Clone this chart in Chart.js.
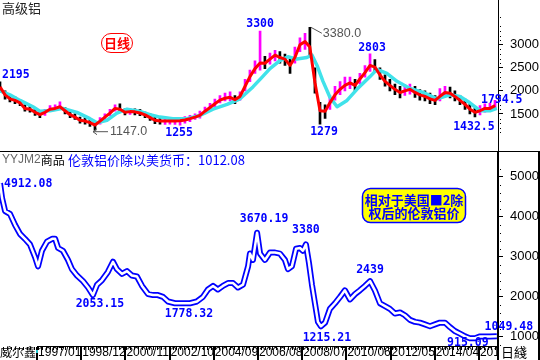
<!DOCTYPE html>
<html>
<head>
<meta charset="utf-8">
<script src="https://cdn.jsdelivr.net/npm/chart.js@4.4.1/dist/chart.umd.min.js"></script>
<style>
html, body { margin: 0; padding: 0; background: #fff; }
#wrap { position: relative; width: 540px; height: 360px; overflow: hidden; }
#top { position: absolute; left: 0; top: 0; }
#bot { position: absolute; left: 0; top: 151px; }
</style>
</head>
<body>
<div id="wrap">
  <canvas id="top" width="540" height="151"></canvas>
  <canvas id="bot" width="540" height="209"></canvas>
</div>
<script>
// time axis (decimal years)
var X_MIN = 1995.35, X_MAX = 2016.95;
var dateLabels = ['1997/01', '1998/12', '2000/11', '2002/10', '2004/09', '2006/08', '2008/07', '2010/06', '2012/05', '2014/04', '2016/03'];
var topTicks = [1500, 2000, 2500, 3000];
var botTicks = [1000, 2000, 3000, 4000, 5000];

// 高级铝 (top panel)
var topT = [1995.35,1995.57,1995.78,1996.00,1996.22,1996.43,1996.65,1996.87,1997.08,1997.30,
  1997.52,1997.74,1997.95,1998.17,1998.39,1998.60,1998.82,1999.04,1999.25,1999.47,
  1999.69,1999.90,2000.12,2000.34,2000.55,2000.77,2000.99,2001.20,2001.42,2001.64,
  2001.86,2002.07,2002.29,2002.51,2002.72,2002.94,2003.16,2003.37,2003.59,2003.81,
  2004.02,2004.24,2004.46,2004.67,2004.89,2005.11,2005.33,2005.54,2005.76,2005.98,
  2006.19,2006.41,2006.63,2006.84,2007.06,2007.28,2007.49,2007.71,2007.93,2008.14,
  2008.36,2008.58,2008.79,2009.01,2009.23,2009.45,2009.66,2009.88,2010.10,2010.31,
  2010.53,2010.75,2010.96,2011.18,2011.40,2011.61,2011.83,2012.05,2012.26,2012.48,
  2012.70,2012.91,2013.13,2013.35,2013.56,2013.78,2014.00,2014.22,2014.43,2014.65,
  2014.87,2015.08,2015.30,2015.52,2015.73,2015.95,2016.17,2016.38,2016.60,2016.82];
var topClose = [2086,1914,1828,1793,1740,1620,1603,1535,1483,1535,
  1603,1620,1655,1569,1483,1431,1362,1345,1310,1259,
  1345,1431,1517,1620,1600,1535,1550,1545,1520,1480,
  1420,1362,1345,1345,1345,1345,1350,1370,1397,1431,
  1470,1560,1640,1720,1800,1840,1860,1810,1880,2100,
  2310,2483,2603,2600,2690,2776,2724,2690,2552,2724,
  3000,3069,2950,2180,1569,1560,1740,1914,2034,2121,
  2172,2121,2259,2397,2552,2517,2345,2207,2121,2034,
  1966,2000,2034,1966,1914,1880,1828,1793,1880,1966,
  1948,1880,1793,1707,1603,1535,1569,1620,1620,1680];
var topHigh = [2195,2000,1900,1870,1800,1700,1680,1600,1560,1600,
  1680,1700,1760,1640,1560,1500,1430,1420,1380,1330,
  1420,1500,1600,1700,1720,1610,1620,1610,1600,1540,
  1500,1430,1420,1410,1400,1420,1400,1440,1470,1500,
  1560,1650,1730,1820,1900,1950,1980,1900,1980,2250,
  2450,2650,3300,2750,2820,2880,2850,2800,2700,2950,
  3150,3250,3380,2500,1750,1700,1900,2100,2200,2300,
  2300,2250,2380,2550,2803,2680,2500,2350,2250,2150,
  2100,2130,2150,2100,2030,2000,1950,1900,2050,2100,
  2080,2000,1900,1820,1720,1620,1680,1720,1730,1794.5];
var topLow = [1980,1820,1760,1720,1680,1560,1540,1470,1420,1470,
  1550,1570,1600,1500,1420,1380,1300,1280,1230,1147,
  1280,1380,1460,1560,1540,1480,1490,1480,1460,1420,
  1360,1290,1280,1270,1280,1270,1255,1300,1330,1380,
  1410,1500,1580,1660,1740,1780,1780,1720,1800,2000,
  2200,2380,2450,2480,2580,2650,2600,2550,2380,2600,
  2850,2900,2750,1950,1279,1400,1600,1800,1920,2000,
  2050,2000,2150,2300,2420,2400,2250,2100,2000,1920,
  1850,1900,1930,1860,1800,1780,1720,1700,1780,1880,
  1850,1780,1700,1600,1500,1432.5,1480,1540,1560,1620];
// long moving average (cyan)
var maT = [1995.35,1995.78,1996.22,1996.78,1997.08,1997.52,1998.08,1998.69,1999.25,1999.56,
  1999.99,2000.42,2000.86,2001.42,2001.86,2002.29,2002.85,2003.46,2004.02,2004.59,
  2005.20,2005.76,2006.32,2006.71,2007.06,2007.49,2007.84,2008.23,2008.66,2008.88,
  2009.10,2009.36,2009.66,2009.97,2010.40,2010.83,2011.40,2011.70,2012.13,2012.57,
  2013.13,2013.70,2014.30,2014.87,2015.30,2015.73,2016.17,2016.60,2016.90];
var maV = [2000,1914,1793,1655,1560,1569,1620,1535,1397,1310,
  1362,1517,1603,1552,1483,1431,1397,1397,1466,1603,
  1707,1828,2086,2293,2483,2655,2741,2690,2724,2776,
  2552,2207,1862,1655,1793,2034,2310,2466,2379,2207,
  2052,1966,1828,1914,1880,1741,1569,1569,1620];

// 伦敦铝价除以美货币 (bottom panel)
var botT = [1995.35,1995.44,1995.57,1995.78,1996.00,1996.22,1996.43,1996.65,1996.87,1997.00,
  1997.17,1997.39,1997.61,1997.74,1997.87,1998.08,1998.30,1998.47,1998.69,1998.95,
  1999.17,1999.38,1999.56,1999.77,2000.03,2000.25,2000.42,2000.64,2000.86,2001.07,
  2001.29,2001.51,2001.77,2001.99,2002.20,2002.42,2002.64,2002.94,2003.24,2003.59,
  2003.89,2004.15,2004.37,2004.59,2004.80,2005.02,2005.24,2005.46,2005.67,2005.89,
  2006.11,2006.19,2006.32,2006.50,2006.63,2006.84,2007.06,2007.28,2007.49,2007.71,
  2007.84,2008.01,2008.19,2008.36,2008.49,2008.62,2008.75,2008.88,2009.01,2009.14,
  2009.27,2009.45,2009.66,2009.88,2010.10,2010.31,2010.53,2010.75,2010.96,2011.18,
  2011.40,2011.61,2011.83,2012.05,2012.26,2012.48,2012.70,2012.91,2013.13,2013.35,
  2013.56,2013.78,2014.00,2014.22,2014.43,2014.65,2014.87,2015.08,2015.30,2015.52,
  2015.73,2015.95,2016.17,2016.38,2016.60,2016.90];
var botV = [4840,4470,4145,4075,3800,3570,3450,3310,2990,2760,
  3150,3380,3450,3450,3220,3150,2920,2690,2530,2390,
  2230,2040,2300,2410,2620,2875,2690,2570,2640,2530,
  2505,2270,2065,2040,2040,1995,1880,1835,1835,1835,
  1880,1995,2180,2270,2180,2270,2340,2340,2230,2300,
  2760,3080,2920,3600,3080,2920,3105,3105,3080,2920,
  2690,2760,3200,3220,3150,3310,2850,2300,1835,1370,
  1260,1350,1695,1835,1995,2160,1930,2065,2160,2270,
  2390,2160,1835,1765,1695,1580,1605,1535,1420,1370,
  1350,1305,1260,1305,1350,1350,1235,1140,1075,1005,
  960,960,1005,1005,1005,1012];

// value notes
var topNotes = [
  {t: 1995.35, v: 2195, s: '2195', dx: 2, dy: -7, align: 'left'},
  {t: 2006.63, v: 3300, s: '3300', dx: 0, dy: -7},
  {t: 2011.40, v: 2803, s: '2803', dx: 2, dy: -6},
  {t: 2009.23, v: 1279, s: '1279', dx: 4, dy: 8},
  {t: 2003.16, v: 1255, s: '1255', dx: -1, dy: 8},
  {t: 2015.95, v: 1432.5, s: '1432.5', dx: -1, dy: 10},
  {t: 2016.82, v: 1794.5, s: '1794.5', dx: -14, dy: 0, align: 'left'}
];
var botNotes = [
  {t: 1995.35, v: 4912.08, s: '4912.08', dx: 4, dy: 4, align: 'left'},
  {t: 2006.50, v: 3670.19, s: '3670.19', dx: 7, dy: -11},
  {t: 2008.62, v: 3380, s: '3380', dx: 0, dy: -12},
  {t: 1999.38, v: 2053.15, s: '2053.15', dx: 7, dy: 9},
  {t: 2003.59, v: 1778.32, s: '1778.32', dx: -1, dy: 8},
  {t: 2009.27, v: 1215.21, s: '1215.21', dx: 6, dy: 10},
  {t: 2011.40, v: 2439, s: '2439', dx: 0, dy: -9},
  {t: 2015.73, v: 915.09, s: '915.09', dx: -2, dy: 3},
  {t: 2016.90, v: 1049.48, s: '1049.48', dx: 12, dy: -8}
];

var SANS = '"Liberation Sans", Arial, sans-serif';
var CJK = '"Noto Sans CJK SC", sans-serif';
var MONO = '"DejaVu Sans Mono", monospace';
var BLUE = '#0000ff';

function dateValue(lbl) {
  var p = lbl.split('/');
  return +p[0] + (+p[1] - 1) / 12;
}

function put(ctx, s, x, y, font, color, align) {
  ctx.font = font;
  ctx.fillStyle = color;
  ctx.textAlign = align || 'left';
  ctx.textBaseline = 'middle';
  ctx.fillText(s, x, y);
  return ctx.measureText(s).width;
}

function pill(ctx, x, y, w, h, r, fill, stroke, lw) {
  ctx.beginPath();
  ctx.roundRect(x, y, w, h, r);
  ctx.fillStyle = fill;
  ctx.fill();
  ctx.lineWidth = lw;
  ctx.strokeStyle = stroke;
  ctx.stroke();
}

function drawNotes(chart, notes) {
  var ctx = chart.ctx, xs = chart.scales.x, ys = chart.scales.y;
  notes.forEach(function (n) {
    var px = xs.getPixelForValue(n.t) + n.dx;
    var py = ys.getPixelForValue(n.v) + n.dy;
    put(ctx, n.s, px, py, 'bold 11.5px ' + MONO, BLUE, n.align || 'center');
  });
}

var topDeco = {
  id: 'topDeco',
  afterDraw: function (chart) {
    var ctx = chart.ctx, xs = chart.scales.x, ys = chart.scales.y;
    ctx.save();
    ctx.fillStyle = '#000';
    ctx.fillRect(498, 0, 1, 151);
    for (var v = 1100; v <= 3600; v += 100) {
      if (v % 500) ctx.fillRect(500, Math.round(ys.getPixelForValue(v)), 1, 1);
    }
    put(ctx, '高级铝', 2, 8, '13px ' + CJK, '#222', 'left');
    pill(ctx, 101.5, 33.5, 31, 19, 9.5, '#fff', '#ff0000', 1);
    put(ctx, '日线', 117, 43, 'bold 13px ' + CJK, '#ff0000', 'center');
    drawNotes(chart, topNotes);

    // gray leader notes
    var gx = xs.getPixelForValue(2008.79), gy = ys.getPixelForValue(3380);
    ctx.strokeStyle = '#555'; ctx.lineWidth = 1;
    ctx.beginPath(); ctx.moveTo(gx + 1, gy); ctx.lineTo(gx + 12, gy + 6); ctx.stroke();
    put(ctx, '3380.0', gx + 13, gy + 6.5, '12.5px ' + SANS, '#555', 'left');

    var lx = xs.getPixelForValue(1999.47), ly = ys.getPixelForValue(1147) + 1.5;
    ctx.beginPath(); ctx.moveTo(lx - 2, ly); ctx.lineTo(lx + 13, ly);
    ctx.moveTo(lx - 2, ly); ctx.lineTo(lx + 2, ly - 3);
    ctx.moveTo(lx - 2, ly); ctx.lineTo(lx + 2, ly + 3); ctx.stroke();
    put(ctx, '1147.0', lx + 15, ly, '12.5px ' + SANS, '#555', 'left');
    ctx.restore();
  }
};

var botDeco = {
  id: 'botDeco',
  afterDraw: function (chart) {
    var ctx = chart.ctx, xs = chart.scales.x, ys = chart.scales.y;
    ctx.save();
    ctx.fillStyle = '#000';
    ctx.fillRect(0, 0, 540, 1);
    for (var v = 800; v <= 5200; v += 200) {
      if (v % 1000) ctx.fillRect(500, Math.round(ys.getPixelForValue(v)), 1, 1);
    }
    // date strip
    ctx.fillRect(37, 195, 461, 1);
    for (var t = 1995.5; t < X_MAX; t += 1 / 6) {
      ctx.fillRect(Math.round(xs.getPixelForValue(t)), 196, 1, 3);
    }
    dateLabels.forEach(function (d) {
      ctx.fillRect(Math.round(xs.getPixelForValue(dateValue(d))) - 2, 196, 2, 13);
    });
    ctx.fillStyle = '#fff';
    ctx.fillRect(499, 196, 39, 13);
    ctx.fillStyle = '#000';
    ctx.fillRect(497, 0, 2, 209);
    ctx.fillRect(538, 0, 2, 209);
    put(ctx, '日綫', 501, 201, '13px ' + CJK, '#000', 'left');
    put(ctx, '威尔鑫', 0, 201, '12px ' + CJK, '#000', 'left');
    ctx.fillStyle = '#22c8d0';
    ctx.fillRect(36, 199, 2, 3);

    // headline
    var w = put(ctx, 'YYJM2', 2, 9, '12px ' + SANS, '#666', 'left');
    put(ctx, '商品', 2 + w, 9, '12px ' + CJK, '#000', 'left');
    put(ctx, '伦敦铝价除以美货币：1012.08', 68, 9, '13px ' + CJK, BLUE, 'left');

    // yellow tag
    pill(ctx, 362.5, 37.5, 103, 34, 8, '#ffff00', BLUE, 1.5);
    put(ctx, '相对于美国■2除', 414, 49, 'bold 13px ' + CJK, BLUE, 'center');
    put(ctx, '权后的伦敦铝价', 414, 62, 'bold 13px ' + CJK, BLUE, 'center');

    drawNotes(chart, botNotes);
    ctx.restore();
  }
};

function yAxis(min, max, ticks) {
  return {
    position: 'right', min: min, max: max,
    afterBuildTicks: function (s) { s.ticks = ticks.map(function (v) { return {value: v}; }); },
    afterFit: function (s) { s.width = 42; },
    ticks: {padding: 7, color: '#000', font: {family: SANS, size: 13},
      callback: function (v) { return String(v); }},
    grid: {drawOnChartArea: false, tickLength: 5, color: '#000'},
    border: {display: false}
  };
}

var common = {
  responsive: false, animation: false, devicePixelRatio: 1,
  plugins: {legend: {display: false}, tooltip: {enabled: false}},
  elements: {point: {radius: 0}, line: {tension: 0, borderJoinStyle: 'round'}}
};

new Chart(document.getElementById('top'), {
  type: 'line',
  data: {
    datasets: [
      {
        type: 'bar',
        data: topT.map(function (t, i) { return {x: t, y: [topLow[i], topHigh[i]]}; }),
        backgroundColor: topT.map(function (t, i) { return i > 0 && topClose[i] >= topClose[i - 1] ? '#ff00ff' : '#000'; }),
        barThickness: 2,
        order: 2
      },
      {
        data: maT.map(function (t, i) { return {x: t, y: maV[i]}; }),
        borderColor: '#40e2ea', borderWidth: 3.5, order: 1
      },
      {
        data: topT.map(function (t, i) { return {x: t, y: topClose[i]}; }),
        borderColor: '#ff0000', borderWidth: 3, order: 0
      }
    ]
  },
  options: Object.assign({}, common, {
    layout: {padding: 0},
    scales: {
      x: {type: 'linear', display: false, min: X_MIN, max: X_MAX, offset: false},
      y: yAxis(1016.8, 3650.6, topTicks)
    }
  }),
  plugins: [topDeco]
});

var botPts = botT.map(function (t, i) { return {x: t, y: botV[i]}; });
new Chart(document.getElementById('bot'), {
  type: 'line',
  data: {
    datasets: [
      {data: botPts, borderColor: BLUE, borderWidth: 6, order: 1},
      {data: botPts, borderColor: '#fff', borderWidth: 2.5, order: 0}
    ]
  },
  options: Object.assign({}, common, {
    layout: {padding: {top: 1}},
    scales: {
      x: {
        type: 'linear', min: X_MIN, max: X_MAX, offset: false,
        afterBuildTicks: function (s) { s.ticks = dateLabels.map(function (d) { return {value: dateValue(d)}; }); },
        afterFit: function (s) { s.height = 14; },
        ticks: {
          autoSkip: false, maxRotation: 0, align: 'start', padding: 0, color: '#000',
          font: {family: SANS, size: 12},
          callback: function (v, i) { return dateLabels[i]; }
        },
        grid: {drawOnChartArea: false, drawTicks: false},
        border: {display: false}
      },
      y: yAxis(785, 5278, botTicks)
    }
  }),
  plugins: [botDeco]
});
</script>
</body>
</html>
